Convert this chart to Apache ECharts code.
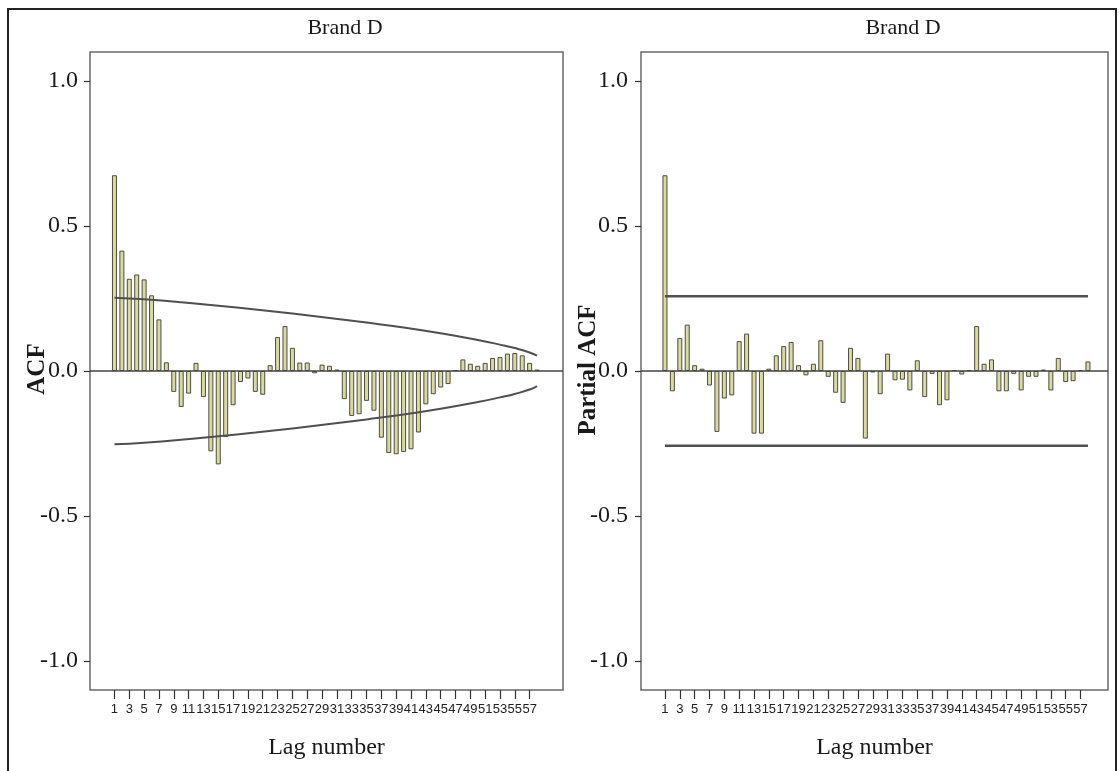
<!DOCTYPE html>
<html>
<head>
<meta charset="utf-8">
<script src="https://cdn.jsdelivr.net/npm/echarts@6/dist/echarts.min.js"></script>
<style>
html,body{margin:0;padding:0;background:#fff;}
#chart{width:1120px;height:771px;}
</style>
</head>
<body>
<div id="chart"></div>
<script>
// ---- data ----
const lags = Array.from({length: 58}, (_, i) => i + 1);
const lagTickLabels = [1,3,5,7,9,11,13,15,17,19,21,23,25,27,29,31,33,35,37,39,41,43,45,47,49,51,53,55,57];
const yTickValues = [-1.0, -0.5, 0.0, 0.5, 1.0];

const acf = [0.675, 0.415, 0.318, 0.333, 0.316, 0.261, 0.178, 0.030, -0.072, -0.124,
             -0.078, 0.028, -0.090, -0.277, -0.322, -0.228, -0.118, -0.038, -0.026, -0.072,
             -0.082, 0.020, 0.117, 0.155, 0.080, 0.029, 0.029, -0.008, 0.022, 0.018,
             0.005, -0.097, -0.155, -0.149, -0.103, -0.137, -0.230, -0.283, -0.287, -0.279,
             -0.270, -0.212, -0.115, -0.080, -0.057, -0.045, 0.003, 0.040, 0.025, 0.018,
             0.028, 0.045, 0.048, 0.060, 0.062, 0.054, 0.028, 0.005];

const pacf = [0.675, -0.070, 0.114, 0.160, 0.020, 0.008, -0.050, -0.210, -0.095, -0.084,
              0.103, 0.129, -0.216, -0.216, 0.008, 0.054, 0.086, 0.100, 0.020, -0.015,
              0.025, 0.106, -0.020, -0.075, -0.110, 0.080, 0.045, -0.233, -0.005, -0.080,
              0.060, -0.032, -0.030, -0.067, 0.037, -0.090, -0.010, -0.118, -0.101, 0.003,
              -0.012, 0.003, 0.155, 0.025, 0.040, -0.070, -0.070, -0.010, -0.067, -0.020,
              -0.020, 0.005, -0.067, 0.045, -0.038, -0.035, 0.003, 0.033];

// ACF confidence limits (curves), read at selected lags
const acfLimitLags  = [1, 5, 10, 15, 20, 25, 30, 35, 40, 45, 50, 53, 55, 57, 58];
const acfUpperLimit = [0.253, 0.247, 0.237, 0.225, 0.212, 0.198, 0.183, 0.167, 0.150, 0.130, 0.107, 0.091, 0.079, 0.064, 0.053];
const acfLowerLimit = [-0.253, -0.247, -0.237, -0.225, -0.212, -0.198, -0.183, -0.167, -0.150, -0.130, -0.107, -0.091, -0.079, -0.064, -0.052];

// PACF confidence limits (flat)
const pacfLimitLags  = [1, 58];
const pacfUpperLimit = [0.258, 0.258];
const pacfLowerLimit = [-0.258, -0.258];

// ---- chart ----
const pairs = (xs, ys) => xs.map((x, i) => [x, ys[i]]);
const serif = '"Liberation Serif", "DejaVu Serif", serif';
const narrow = '"Liberation Sans Narrow", "Liberation Sans", Arial, sans-serif';
const barFill = '#dcd8a3';
const barEdge = '#4d4d40';
const lineCol = '#505050';

function xAxisFor(gridIndex, min, max) {
  return {
    type: 'value', gridIndex, min, max, position: 'bottom',
    name: 'Lag number', nameLocation: 'middle', nameGap: 46,
    nameTextStyle: {fontFamily: serif, fontSize: 24, color: '#1a1a1a'},
    axisLine: {show: false, onZero: false},
    splitLine: {show: false},
    axisTick: {show: true, customValues: lagTickLabels, length: 9, inside: false,
               lineStyle: {color: '#333', width: 1.2}},
    axisLabel: {customValues: lagTickLabels, margin: 13, fontFamily: narrow, fontSize: 13,
                color: '#222'}
  };
}
function yAxisFor(gridIndex, margin) {
  return {
    type: 'value', gridIndex, min: -1.1, max: 1.1, position: 'left',
    axisLine: {show: false, onZero: false},
    splitLine: {show: false},
    axisTick: {show: true, customValues: yTickValues, length: 6, lineStyle: {color: '#333', width: 1.2}},
    axisLabel: {customValues: yTickValues, margin, fontFamily: serif, fontSize: 24, color: '#1a1a1a',
                formatter: v => v.toFixed(1)}
  };
}
function barSeries(idx, values) {
  return {
    type: 'bar', xAxisIndex: idx, yAxisIndex: idx,
    data: pairs(lags, values), barWidth: 5,
    itemStyle: {color: barFill, borderColor: barEdge, borderWidth: 1},
    silent: true, animation: false,
    markLine: {
      silent: true, symbol: ['none', 'none'], label: {show: false},
      lineStyle: {color: '#444', width: 1.6, type: 'solid'},
      data: [{yAxis: 0}]
    },
    z: 2
  };
}
function limitSeries(idx, xs, ys, smooth, width) {
  return {
    type: 'line', xAxisIndex: idx, yAxisIndex: idx,
    data: pairs(xs, ys), smooth, showSymbol: false, symbol: 'none',
    lineStyle: {color: lineCol, width}, silent: true, animation: false, z: 3
  };
}

const option = {
  backgroundColor: '#ffffff',
  animation: false,
  grid: [
    {left: 90, top: 52, width: 473, height: 638, show: true, borderColor: '#6a6a6a', borderWidth: 1.5, backgroundColor: 'transparent'},
    {left: 641, top: 52, width: 467, height: 638, show: true, borderColor: '#6a6a6a', borderWidth: 1.5, backgroundColor: 'transparent'}
  ],
  xAxis: [xAxisFor(0, -2.3, 61.5), xAxisFor(1, -2.23, 60.7)],
  yAxis: [yAxisFor(0, 12), yAxisFor(1, 13)],
  series: [
    barSeries(0, acf),
    limitSeries(0, acfLimitLags, acfUpperLimit, true, 2),
    limitSeries(0, acfLimitLags, acfLowerLimit, true, 2),
    barSeries(1, pacf),
    limitSeries(1, pacfLimitLags, pacfUpperLimit, false, 2.5),
    limitSeries(1, pacfLimitLags, pacfLowerLimit, false, 2.5)
  ],
  graphic: [
    {type: 'rect', shape: {x: 8, y: 9, width: 1108, height: 772}, style: {fill: 'none', stroke: '#222', lineWidth: 2}, silent: true},
    {type: 'text', x: 345, y: 28, style: {text: 'Brand D', font: '22px ' + serif, fill: '#1a1a1a', textAlign: 'center', textVerticalAlign: 'middle'}},
    {type: 'text', x: 903, y: 28, style: {text: 'Brand D', font: '22px ' + serif, fill: '#1a1a1a', textAlign: 'center', textVerticalAlign: 'middle'}},
    {type: 'text', x: 38, y: 369, rotation: Math.PI / 2, style: {text: 'ACF', font: 'bold 25px ' + serif, fill: '#1a1a1a', textAlign: 'center', textVerticalAlign: 'middle'}},
    {type: 'text', x: 589, y: 370, rotation: Math.PI / 2, style: {text: 'Partial ACF', font: 'bold 25px ' + serif, fill: '#1a1a1a', textAlign: 'center', textVerticalAlign: 'middle'}}
  ]
};

const chart = echarts.init(document.getElementById('chart'), null, {renderer: 'canvas'});
chart.setOption(option);
</script>
</body>
</html>
